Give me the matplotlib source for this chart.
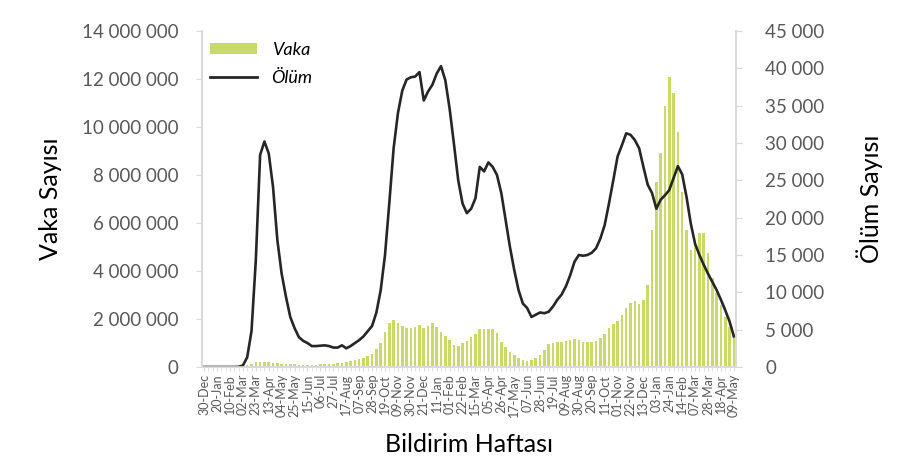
"""
Weekly cases (bars) and deaths (line), two y axes
"""
import matplotlib.pyplot as plt
from matplotlib.patches import Patch
from matplotlib.lines import Line2D
from matplotlib.ticker import FuncFormatter, MultipleLocator
import numpy as np
import pandas as pd

plt.rcParams['font.family'] = ['Lato', 'DejaVu Sans']

# weekly reporting dates (Monday of each week)
weeks = pd.date_range('2019-12-30', '2022-05-09', freq='7D')
tick_labels = [d.strftime('%d-%b') for d in weeks[::3]]

# weekly cases, millions
cases_m = [
    0, 0, 0, 0, 0, 0, 0.001, 0.003, 0.01, 0.03,
    0.08, 0.12, 0.19, 0.22, 0.22, 0.20, 0.18, 0.16, 0.14, 0.13,
    0.12, 0.11, 0.10, 0.10, 0.10, 0.10, 0.10, 0.11, 0.12, 0.13,
    0.14, 0.16, 0.18, 0.22, 0.26, 0.31, 0.35, 0.39, 0.45, 0.54,
    0.77, 1.01, 1.47, 1.82, 1.94, 1.85, 1.71, 1.61, 1.61, 1.65,
    1.75, 1.61, 1.71, 1.85, 1.68, 1.47, 1.29, 1.13, 0.92, 0.88,
    0.99, 1.08, 1.24, 1.38, 1.58, 1.58, 1.58, 1.57, 1.40, 1.06,
    0.85, 0.64, 0.50, 0.36, 0.29, 0.26, 0.29, 0.36, 0.50, 0.71,
    0.96, 1.01, 1.03, 1.05, 1.09, 1.12, 1.15, 1.13, 1.06, 1.03,
    1.03, 1.08, 1.19, 1.38, 1.61, 1.79, 1.93, 2.17, 2.44, 2.68,
    2.75, 2.64, 2.80, 3.42, 5.71, 7.72, 8.90, 10.88, 12.10, 11.40,
    9.80, 7.30, 5.71, 4.88, 5.20, 5.57, 5.57, 4.74, 3.69, 3.10,
    2.60, 2.10, 1.65, 1.20,
]
cases = np.array(cases_m) * 1e6

# weekly deaths
deaths = [
    0, 0, 0, 0, 0, 0, 0, 2, 20, 200,
    1300, 4800, 14300, 28400, 30200, 28600, 24100, 17000, 12500, 9400,
    6700, 5200, 4000, 3500, 3200, 2800, 2800, 2850, 2900, 2800,
    2600, 2600, 2900, 2500, 2800, 3200, 3600, 4100, 4800, 5500,
    7300, 10300, 15000, 22000, 29300, 34000, 37000, 38500, 38800, 38900,
    39500, 35700, 36900, 37800, 39300, 40300, 38400, 34600, 29900, 25000,
    21900, 20600, 21200, 22600, 26800, 26200, 27400, 26800, 25700, 23300,
    19700, 16100, 13000, 10300, 8500, 7900, 6700, 7000, 7300, 7200,
    7400, 8100, 9000, 9700, 10800, 12300, 14100, 15000, 14900, 15000,
    15300, 15900, 17200, 19000, 21900, 25000, 28200, 29700, 31300, 31100,
    30400, 29300, 26800, 24400, 23300, 21200, 22400, 23000, 23700, 25300,
    26900, 25800, 22800, 19200, 16500, 15000, 13700, 12500, 11400, 10300,
    9000, 7600, 6100, 4100,
]

colors = {
    'bar': '#c9da6b',
    'line': '#262626',
    'tick': '#595959',
    'spine': '#d9d9d9',
    'title': '#000000',
}

fig = plt.figure(figsize=(9.09, 4.75), dpi=100)
ax = fig.add_axes([0.2222, 0.2274, 0.5875, 0.7073])
ax2 = ax.twinx()

x = np.arange(len(weeks))
ax.bar(x, cases, width=0.6, color=colors['bar'], linewidth=0)
ax2.plot(x, deaths, color=colors['line'], linewidth=1.9,
         solid_joinstyle='round')

ax.set_xlim(-0.5, len(weeks) - 0.5)
ax.set_ylim(0, 14e6)
ax2.set_ylim(0, 45000)
ax.yaxis.set_major_locator(MultipleLocator(2e6))
ax2.yaxis.set_major_locator(MultipleLocator(5000))

space_fmt = FuncFormatter(lambda v, p: f'{int(v):,}'.replace(',', ' '))
ax.yaxis.set_major_formatter(space_fmt)
ax2.yaxis.set_major_formatter(space_fmt)

ax.set_xticks(x[::3])
ax.set_xticklabels(tick_labels, rotation=90, fontsize=9, color=colors['tick'])
ax.set_xticks(x, minor=True)

for a in (ax, ax2):
    a.spines['top'].set_visible(False)
    for s in ('left', 'right', 'bottom'):
        a.spines[s].set_color(colors['spine'])
        a.spines[s].set_linewidth(1.2)

ax.tick_params(axis='x', which='both', length=3, color=colors['spine'], pad=2)
ax.tick_params(axis='y', length=4, color=colors['spine'], labelsize=13.5,
               labelcolor=colors['tick'], pad=13)
ax2.tick_params(axis='y', length=4, color=colors['spine'], labelsize=13.5,
                labelcolor=colors['tick'], pad=17)

ax.set_ylabel('Vaka Sayısı', fontsize=18, color=colors['title'], labelpad=14)
ax2.set_ylabel('Ölüm Sayısı', fontsize=18, color=colors['title'], labelpad=23)
ax.set_xlabel('Bildirim Haftası', fontsize=18, color=colors['title'], labelpad=11)

handles = [Patch(facecolor=colors['bar'], edgecolor='none'),
           Line2D([0], [0], color=colors['line'], linewidth=2)]
ax2.legend(handles, ['Vaka', 'Ölüm'], loc='upper left',
           bbox_to_anchor=(-0.005, 1.0), frameon=False,
           prop={'style': 'italic', 'size': 13}, handlelength=2.6,
           handleheight=0.6, labelspacing=0.7, borderaxespad=0.2)

plt.savefig('out.png', dpi=100, facecolor='white')
